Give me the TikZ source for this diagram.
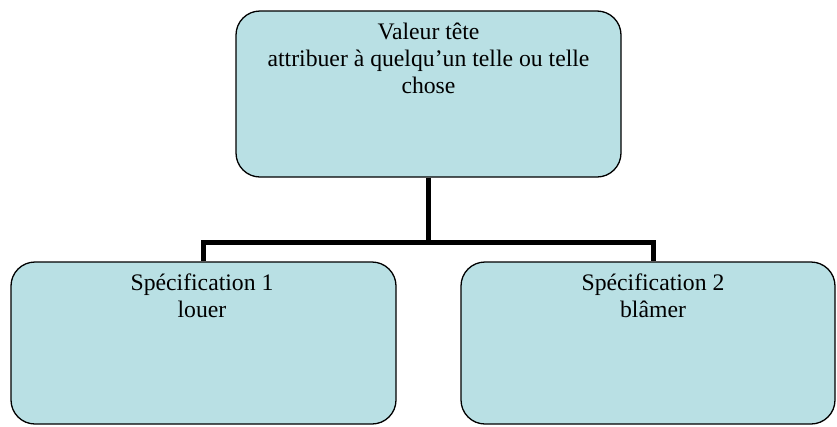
\documentclass[tikz,border=0pt]{standalone}
\usepackage{fontspec}
\setmainfont{Liberation Serif}
\begin{document}
\begin{tikzpicture}[x=1pt,y=-1pt,
  box/.style={draw=black,line width=1.3pt,fill=boxfill,rounded corners=24pt,inner sep=0pt},
  lbl/.style={anchor=base,align=center,font=\fontsize{23.7}{27}\selectfont,inner sep=0pt},
  conn/.style={draw=black,line width=5pt}]
\definecolor{boxfill}{RGB}{185,224,228}
\useasboundingbox (0,0) rectangle (837,426);
\node[box,minimum width=385pt,minimum height=166pt] (top) at (428.5,94) {};
\node[box,minimum width=385pt,minimum height=162pt] (left) at (203.5,343) {};
\node[box,minimum width=374pt,minimum height=162pt] (right) at (648,343) {};
\node[lbl] (toptext) at (428.5,93) {Valeur tête\\attribuer à quelqu’un telle ou telle\\chose};
\node[lbl] (lefttext) at (202,317) {Spécification 1\\louer};
\node[lbl] (righttext) at (653,317) {Spécification 2\\blâmer};
\coordinate (j) at (428.5,242);
\draw[conn] (top.south) -- (j);
\draw[conn] (left.north) |- (j) -| ([xshift=5pt]right.north);
\end{tikzpicture}
\end{document}
